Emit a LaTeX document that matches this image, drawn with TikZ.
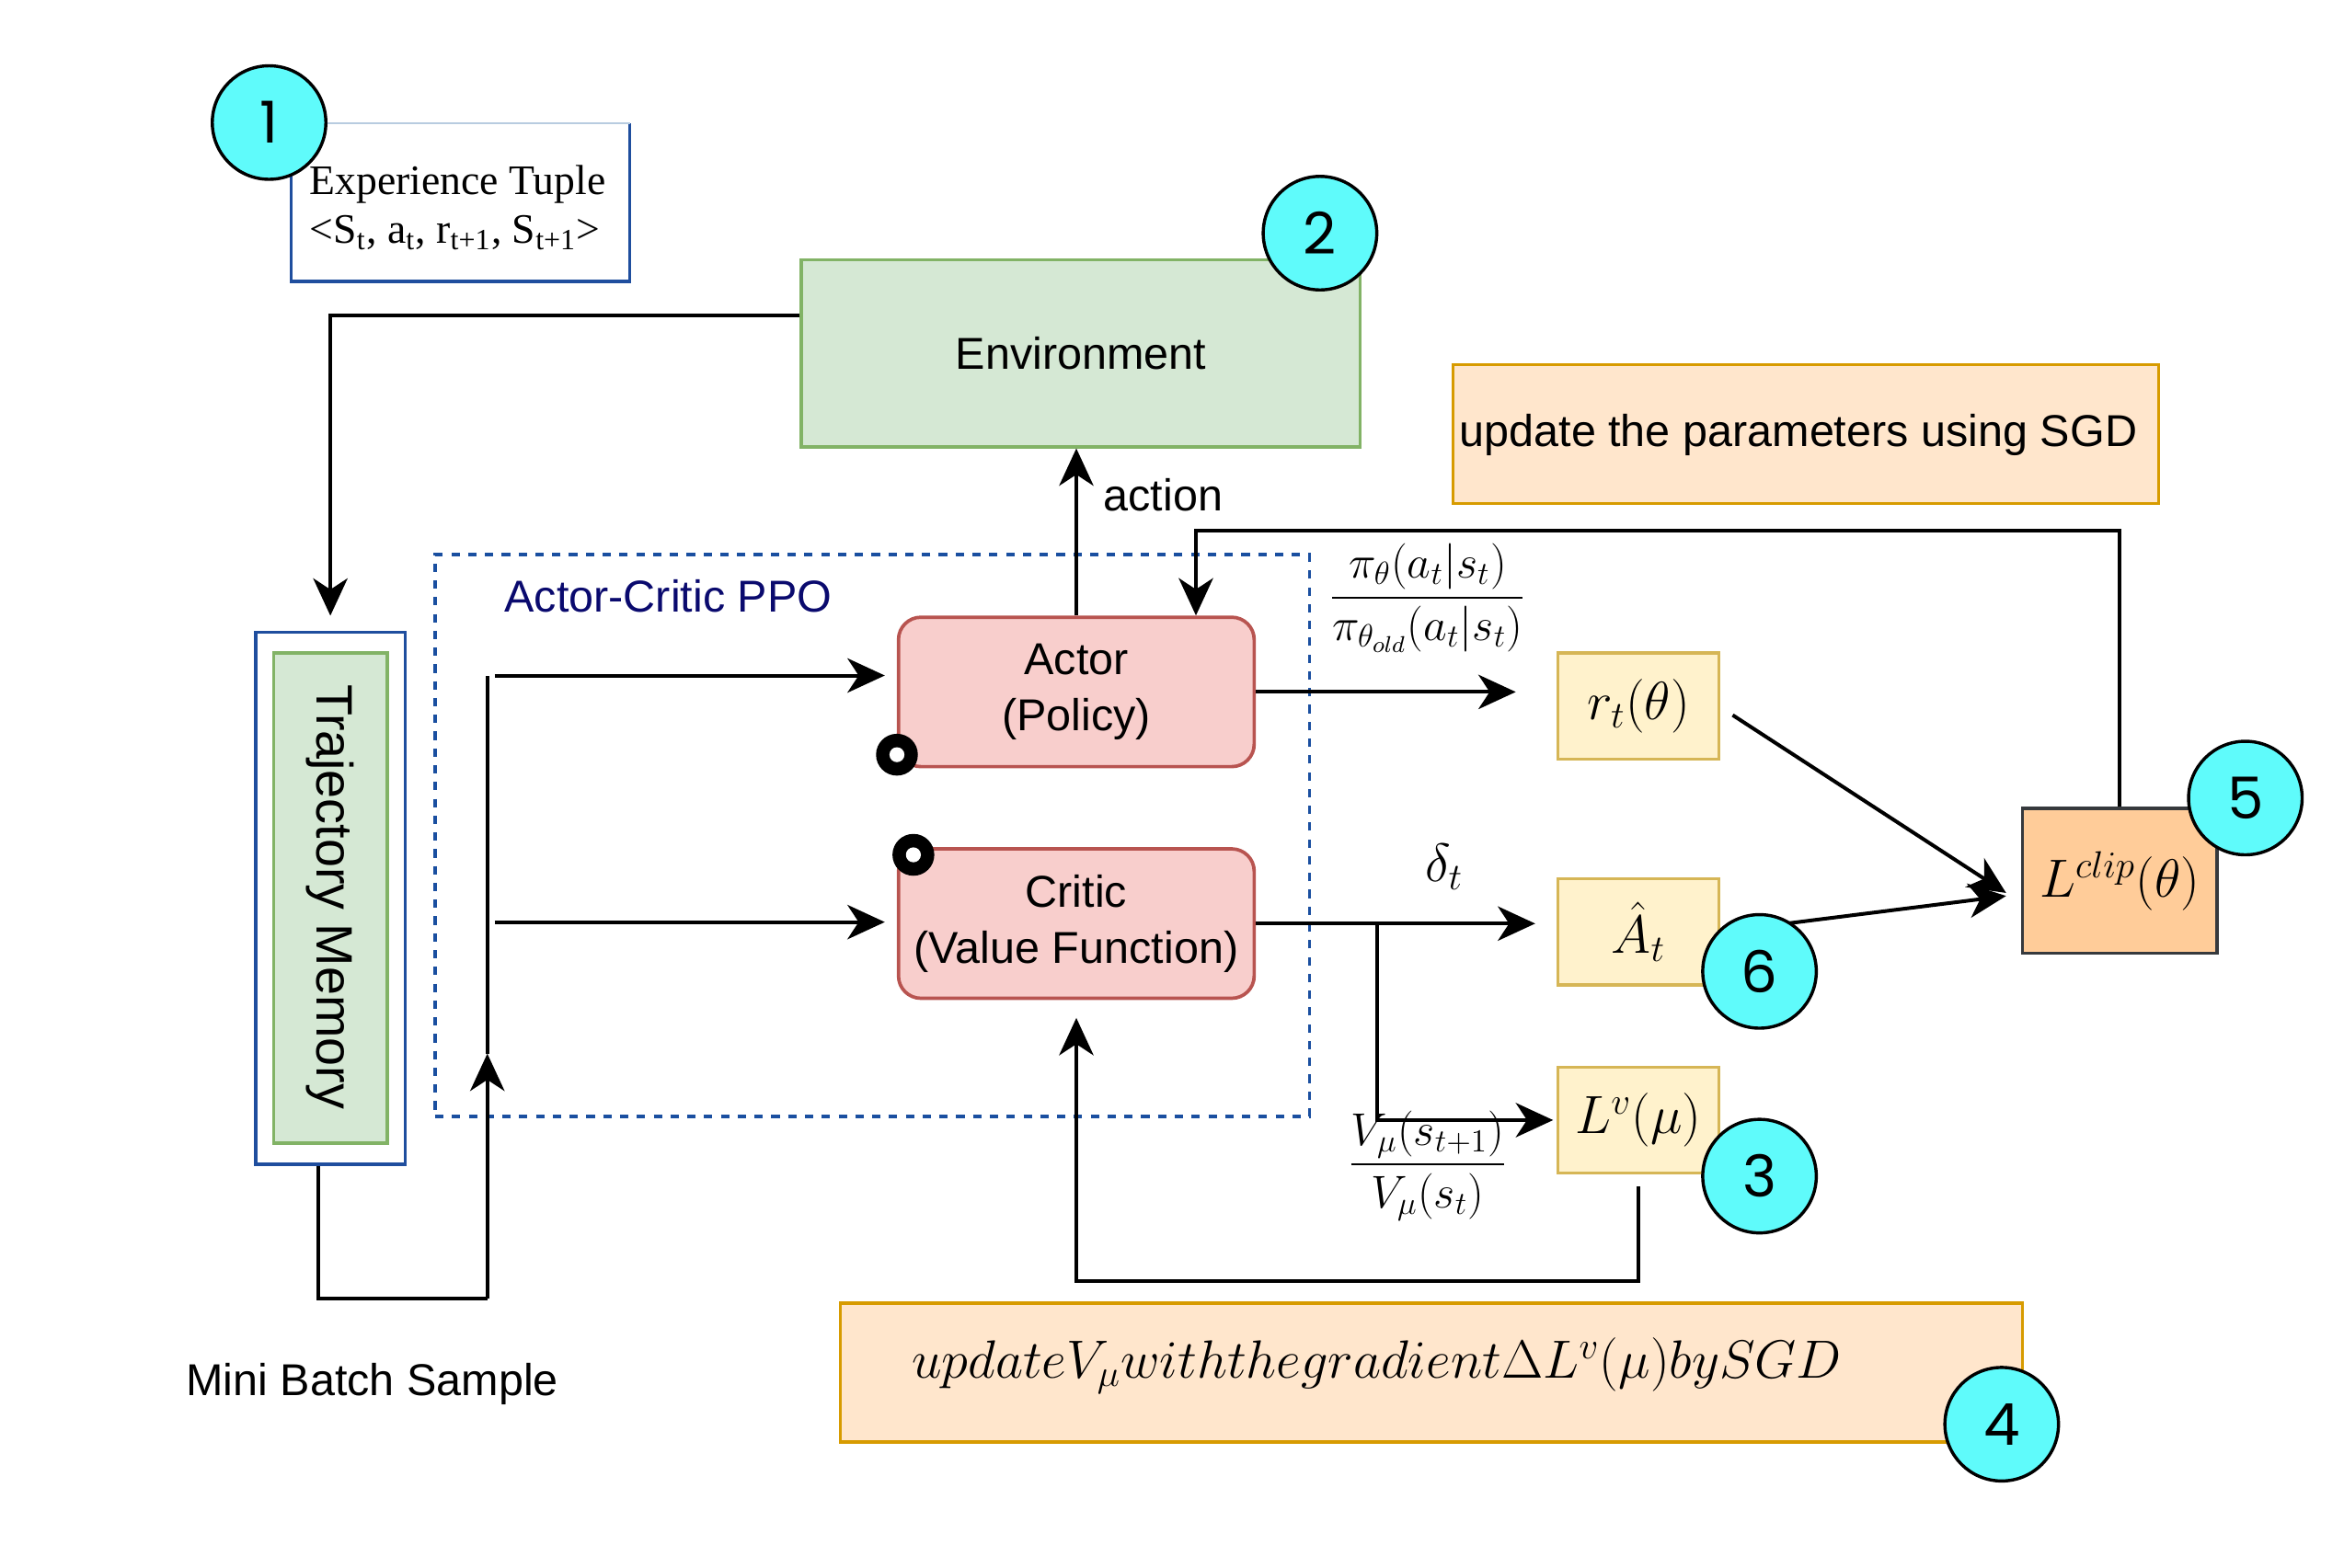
\RequirePackage{fix-cm}
\documentclass[tikz,border=0pt]{standalone}
\usepackage{amsmath}
\usepackage[no-math]{fontspec}
\setmainfont{Liberation Sans}
\newfontfamily\timesfont{Liberation Serif}
\newfontfamily\numfont{Poppins}
\usetikzlibrary{arrows.meta,calc}
\definecolor{cyanc}{HTML}{5FFBFB}
\definecolor{envf}{HTML}{D5E8D4}
\definecolor{envd}{HTML}{82B366}
\definecolor{pinkf}{HTML}{F8CECC}
\definecolor{pinkd}{HTML}{B85450}
\definecolor{yelf}{HTML}{FFF2CC}
\definecolor{yeld}{HTML}{D6B656}
\definecolor{peachf}{HTML}{FFE6CC}
\definecolor{peachd}{HTML}{D79B00}
\definecolor{clipf}{HTML}{FFCC99}
\definecolor{clipd}{HTML}{36393D}
\definecolor{bordblue}{HTML}{1F4E9E}
\definecolor{lightblue}{HTML}{B8CCE0}
\definecolor{dashblue}{HTML}{1A4FA0}
\definecolor{navy}{HTML}{0A0A6E}
\tikzset{
  txt/.style={font=\fontsize{17}{21.5}\selectfont},
  mth/.style={font=\fontsize{20.5}{24}\selectfont},
  frc/.style={font=\fontsize{17.5}{21}\selectfont},
  arr/.style={-{Stealth[length=0.5cm,width=0.46cm,inset=0.15cm]}, line width=1.4pt},
  ln/.style={line width=1.4pt},
  numc/.style={circle, draw=black, line width=1.2pt, fill=cyanc, minimum size=1.52cm,
    inner sep=0pt, font=\numfont\fontsize{22}{26}\selectfont},
  envbox/.style={draw=envd, fill=envf, line width=1.2pt},
  pinkbox/.style={draw=pinkd, fill=pinkf, line width=1.3pt, rounded corners=0.3cm,
    minimum width=4.76cm, minimum height=2.0cm, align=center, txt},
  yelbox/.style={draw=yeld, fill=yelf, line width=1.2pt, minimum width=2.16cm,
    minimum height=1.42cm, mth},
  ring/.style={circle, fill=black, minimum size=0.56cm, inner sep=0pt,
    path picture={\fill[white] (path picture bounding box.center) circle (0.1cm);}},
}
\begin{document}
\begin{tikzpicture}[x=0.02cm,y=-0.02cm]
\useasboundingbox (0,0) rectangle (1568,1049);

% dashed actor-critic region
\node[draw=dashblue, dashed, dash pattern=on 3.2pt off 3.2pt, line width=1.2pt,
  minimum width=11.7cm, minimum height=7.52cm] (acbox) at (583.5,559) {};
\node[txt, text=navy] (aclbl) at (447,399) {Actor-Critic PPO};

% experience tuple
\node[fill=white, minimum width=4.52cm, minimum height=2.1cm] (exp) at (308,135.5) {};
\draw[bordblue, line width=1.2pt] (exp.north west) -- (exp.south west) -- (exp.south east) -- (exp.north east);
\draw[lightblue, line width=0.8pt] (exp.north west) -- (exp.north east);
\node[anchor=west, align=left, font=\timesfont\fontsize{16}{19.5}\selectfont] (exptxt) at (201,139)
  {Experience Tuple\\[-1pt]<S\textsubscript{t}, a\textsubscript{t}, r\textsubscript{t+1}, S\textsubscript{t+1}>};

% environment
\node[envbox, minimum width=7.48cm, minimum height=2.5cm, txt] (env) at (723,236.5) {Environment};

% update params box
\node[draw=peachd, fill=peachf, line width=1.2pt, minimum width=9.44cm, minimum height=1.86cm] (upd) at (1208,290.5) {};
\node[txt] (updtxt) at (1203,291) {update the parameters using SGD};

% trajectory memory
\node[draw=bordblue, fill=white, line width=1.2pt, minimum width=2.0cm, minimum height=7.12cm] (traj) at (221,601) {};
\node[envbox, minimum width=1.52cm, minimum height=6.56cm] (trajin) at (221,601) {};
\node[rotate=-90, font=\fontsize{19.5}{22}\selectfont] (trajtxt) at (221,600) {Trajectory Memory};

% actor / critic
\node[pinkbox] (actor) at (720,463) {Actor\\(Policy)};
\node[pinkbox] (critic) at (720,618) {Critic\\(Value Function)};

% small boxes
\node[yelbox] (rt) at (1096,472.5) {$r_t(\theta)$};
\node[yelbox] (at) at (1096,623.5) {$\hat{A}_t$};
\node[yelbox] (lv) at (1096,749.5) {$L^v(\mu)$};
\node[draw=clipd, fill=clipf, line width=1.2pt, minimum width=2.6cm, minimum height=1.94cm, mth] (lclip) at (1418,589.5) {$L^{clip}(\theta)$};

% update V box
\node[draw=peachd, fill=peachf, line width=1.2pt, minimum width=15.82cm, minimum height=1.86cm] (updv) at (957.5,918.5) {};
\node[mth] (updvtxt) at (921,914) {$update V_\mu with the gradient \Delta L^v(\mu) by SGD$};

% labels
\node[txt] (lblact) at (778,331) {action};
\node[txt] (lblmb) at (249,926) {Mini Batch Sample};
\node[mth] (lbldelta) at (966,580) {$\delta_t$};

% connectors
\coordinate (e1) at ($(env.north west)!0.3!(env.south west)$);
\draw[arr, shorten >=0.2cm] (e1) -| (traj.north);

\coordinate (tb) at ([xshift=-0.16cm]traj.south);
\coordinate (mb) at (326,869);
\coordinate (mid) at (326,705);
\coordinate (spA) at (326,452);
\coordinate (spC) at (326,617);
\draw[ln] (tb) |- (mb);
\draw[arr] (mb) -- (mid);
\draw[ln] (mid) -- (spA);
\draw[arr, shorten >=0.16cm] ([xshift=0.1cm]spA) -- (spA -| actor.west);
\draw[arr, shorten >=0.16cm] ([xshift=0.1cm]spC) -- (spC -| critic.west);

\draw[arr] (actor.north) -- (actor.north |- env.south);

\coordinate (fb) at (800,355);
\draw[arr] (lclip.north) |- (fb) -- (fb |- actor.north);

\draw[arr, shorten >=0.54cm] (actor.east) -- (actor.east -| rt.west);
\draw[arr, shorten >=0.28cm] (critic.east) -- (critic.east -| at.west);

\coordinate (br) at (921,619);
\draw[arr] (br) |- ([xshift=-0.04cm]lv.west);

\draw[arr, shorten <=0.16cm, shorten >=0.24cm] (lv.south) -- ++(0,71) -| (critic.south);

\draw[arr] ([shift={(8,6)}]rt.east) -- ([shift={(-10,8)}]lclip.west);
\draw[arr] (at.east) -- ([shift={(-10,10)}]lclip.west);

% fractions
\node[frc] (frac1) at (955,400) {$\displaystyle\frac{\pi_\theta(a_t|s_t)}{\pi_{\theta_{old}}(a_t|s_t)}$};
\node[frc] (frac2) at (955,780) {$\displaystyle\frac{V_\mu(s_{t+1})}{V_\mu(s_t)}$};

% ring markers
\node[ring] (r1) at (600,505) {};
\node[ring] (r2) at (611,572) {};

% numbered circles
\node[numc] (c1) at (180,82) {1};
\node[numc] (c2) at (883,156) {2};
\node[numc] (c3) at (1177,787) {3};
\node[numc] (c4) at (1339,953) {4};
\node[numc] (c5) at (1502,534) {5};
\node[numc] (c6) at (1177,650) {6};
\end{tikzpicture}
\end{document}
